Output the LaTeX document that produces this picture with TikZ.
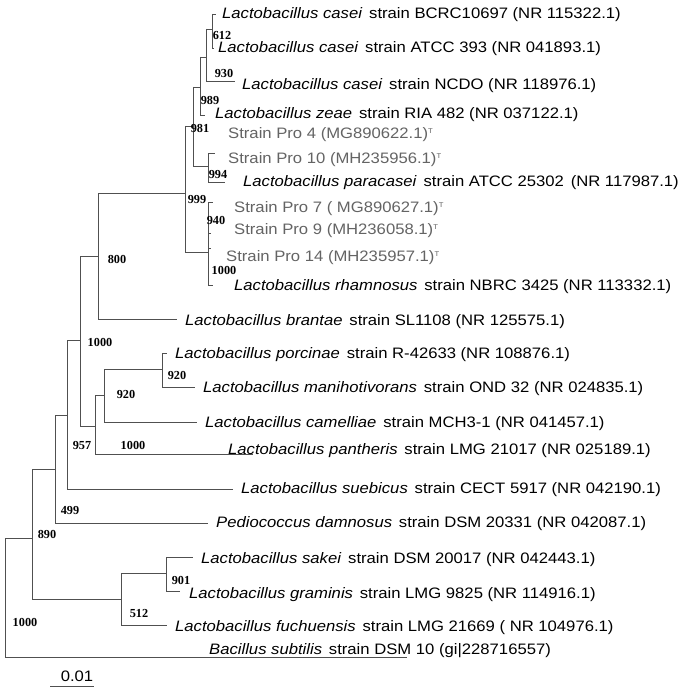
\documentclass[tikz,border=0pt]{standalone}
\usepackage{fontspec}
\setmainfont{Liberation Sans}[FakeStretch=1.1]
\newfontfamily\bsfont{Liberation Serif}
\definecolor{linec}{RGB}{80,80,80}
\definecolor{proc}{RGB}{100,100,100}
\begin{document}
\begin{tikzpicture}[x=1bp,y=-1bp,
  br/.style={draw=linec,line width=0.8bp},
  lf/.style={anchor=west,inner sep=0pt,font=\fontsize{15.2}{17}\selectfont},
  pro/.style={lf,text=proc},
  bs/.style={inner sep=0pt,font=\bsfont\bfseries\fontsize{12.3}{13}\selectfont}]
\useasboundingbox (0,0) rectangle (685,691);
\fill[white] (0,0) rectangle (685,691);
% ---- internal node coordinates ----
\coordinate (cA1) at (212,14);  \coordinate (cA2) at (212,48);
\coordinate (cB1) at (206,29);  \coordinate (cB2) at (206,81);
\coordinate (cC1) at (200,57);  \coordinate (cC2) at (200,115);
\coordinate (cD1) at (193,87);  \coordinate (cD2) at (193,166);
\coordinate (cF1) at (208,153); \coordinate (cF2) at (208,182);
\coordinate (cE1) at (185,126); \coordinate (cE2) at (185,252);
\coordinate (cG1) at (208,202); \coordinate (cG2) at (208,285);
\coordinate (cH1) at (98,193);  \coordinate (cH2) at (98,319);
\coordinate (cI1) at (80,256);  \coordinate (cI2) at (80,426);
\coordinate (cJ1) at (95,395);  \coordinate (cJ2) at (95,454);
\coordinate (cK1) at (104,369); \coordinate (cK2) at (104,422);
\coordinate (cL1) at (162,353); \coordinate (cL2) at (162,387);
\coordinate (cM1) at (67,340);  \coordinate (cM2) at (67,489);
\coordinate (cN1) at (55,415);  \coordinate (cN2) at (55,523);
\coordinate (cO1) at (32,469);  \coordinate (cO2) at (32,599);
\coordinate (cP1) at (121,573); \coordinate (cP2) at (121,625);
\coordinate (cQ1) at (166,557); \coordinate (cQ2) at (166,591);
\coordinate (cR1) at (5,538);   \coordinate (cR2) at (5,657);
% ---- leaf line ends ----
\coordinate (eA1) at (216,14);  \coordinate (eA2) at (214,48);
\coordinate (eB2) at (235,81);  \coordinate (eC2) at (205,115);
\coordinate (eF1) at (215,153); \coordinate (eF2) at (225,182);
\coordinate (eG1) at (213,202); \coordinate (eG3) at (211,233);
\coordinate (eG4) at (211,248); \coordinate (eG2) at (213,285);
\coordinate (eH2) at (177,319); \coordinate (eJ2) at (253,454);
\coordinate (eK2) at (197,422); \coordinate (eL1) at (167,353);
\coordinate (eL2) at (195,387); \coordinate (eM2) at (233,489);
\coordinate (eN2) at (208,523); \coordinate (eP2) at (167,625);
\coordinate (eQ1) at (193,557); \coordinate (eQ2) at (180,591);
\coordinate (eR2) at (407,657); \coordinate (mainL) at (98,193);
\coordinate (sb1) at (50,686);  \coordinate (sb2) at (94,686);
% ---- verticals ----
\foreach \n in {A,B,C,D,F,E,G,H,I,J,K,L,M,N,O,P,Q,R}
  \draw[br] (c\n1) -- (c\n2);
% ---- connections ----
\draw[br] (cB1) -- (cB1 -| cA1);
\draw[br] (cC1) -- (cC1 -| cB1);
\draw[br] (cD1) -- (cD1 -| cC1);
\draw[br] (cD2) -- (cD2 -| cF1);
\draw[br] (cE1) -- (cE1 -| cD1);
\draw[br] (cE2) -- (cE2 -| cG1);
\draw[br] (mainL) -- (mainL -| cE1);
\draw[br] (cI1) -- (cI1 -| cH1);
\draw[br] (cI2) -- (cI2 -| cJ1);
\draw[br] (cJ1) -- (cJ1 -| cK1);
\draw[br] (cK1) -- (cK1 -| cL1);
\draw[br] (cM1) -- (cM1 -| cI1);
\draw[br] (cN1) -- (cN1 -| cM1);
\draw[br] (cO1) -- (cO1 -| cN1);
\draw[br] (cO2) -- (cO2 -| cP1);
\draw[br] (cP1) -- (cP1 -| cQ1);
\draw[br] (cR1) -- (cR1 -| cO1);
% ---- leaves ----
\draw[br] (cA1) -- (eA1);  \draw[br] (cA2) -- (eA2);
\draw[br] (cB2) -- (eB2);  \draw[br] (cC2) -- (eC2);
\draw[br] (cF1) -- (eF1);  \draw[br] (cF2) -- (eF2);
\draw[br] (cG1) -- (eG1);  \draw[br] (cG2) -- (eG2);
\draw[br] (eG3 -| cG1) -- (eG3); \draw[br] (eG4 -| cG1) -- (eG4);
\draw[br] (cH2) -- (eH2);  \draw[br] (cJ2) -- (eJ2);
\draw[br] (cK2) -- (eK2);  \draw[br] (cL1) -- (eL1);
\draw[br] (cL2) -- (eL2);  \draw[br] (cM2) -- (eM2);
\draw[br] (cN2) -- (eN2);  \draw[br] (cP2) -- (eP2);
\draw[br] (cQ1) -- (eQ1);  \draw[br] (cQ2) -- (eQ2);
\draw[br] (cR2) -- (eR2);
\draw[br] (sb1) -- (sb2);
% ---- leaf labels ----
\node[lf] (t1) at (222,15) {\textit{Lactobacillus casei}\hspace{0.45em}strain BCRC10697 (NR 115322.1)};
\node[lf] (t2) at (218,49) {\textit{Lactobacillus casei}\hspace{0.45em}strain ATCC 393 (NR 041893.1)};
\node[lf] (t3) at (242,86) {\textit{Lactobacillus casei}\hspace{0.45em}strain NCDO (NR 118976.1)};
\node[lf] (t4) at (215,115) {\textit{Lactobacillus zeae}\hspace{0.45em}strain RIA 482 (NR 037122.1)};
\node[pro] (t5) at (228,135) {Strain Pro 4 (MG890622.1)\textsuperscript{\scriptsize T}};
\node[pro] (t6) at (228,160) {Strain Pro 10 (MH235956.1)\textsuperscript{\scriptsize T}};
\node[lf] (t7) at (243,183) {\textit{Lactobacillus paracasei}\hspace{0.45em}strain ATCC 25302\hspace{0.45em}(NR 117987.1)};
\node[pro] (t8) at (234,209) {Strain Pro 7 ( MG890627.1)\textsuperscript{\scriptsize T}};
\node[pro] (t9) at (234,231) {Strain Pro 9 (MH236058.1)\textsuperscript{\scriptsize T}};
\node[pro] (t10) at (226,258) {Strain Pro 14 (MH235957.1)\textsuperscript{\scriptsize T}};
\node[lf] (t11) at (234,287) {\textit{Lactobacillus rhamnosus}\hspace{0.45em}strain NBRC 3425 (NR 113332.1)};
\node[lf] (t12) at (185,322) {\textit{Lactobacillus brantae}\hspace{0.45em}strain SL1108 (NR 125575.1)};
\node[lf] (t13) at (175,355) {\textit{Lactobacillus porcinae}\hspace{0.45em}strain R-42633 (NR 108876.1)};
\node[lf] (t14) at (203,389) {\textit{Lactobacillus manihotivorans}\hspace{0.45em}strain OND 32 (NR 024835.1)};
\node[lf] (t15) at (205,424) {\textit{Lactobacillus camelliae}\hspace{0.45em}strain MCH3-1 (NR 041457.1)};
\node[lf] (t16) at (228,451) {\textit{Lactobacillus pantheris}\hspace{0.45em}strain LMG 21017 (NR 025189.1)};
\node[lf] (t17) at (241,490) {\textit{Lactobacillus suebicus}\hspace{0.45em}strain CECT 5917 (NR 042190.1)};
\node[lf] (t18) at (216,524) {\textit{Pediococcus damnosus}\hspace{0.45em}strain DSM 20331 (NR 042087.1)};
\node[lf] (t19) at (201,560) {\textit{Lactobacillus sakei}\hspace{0.45em}strain DSM 20017 (NR 042443.1)};
\node[lf] (t20) at (189,595) {\textit{Lactobacillus graminis}\hspace{0.45em}strain LMG 9825 (NR 114916.1)};
\node[lf] (t21) at (175,628) {\textit{Lactobacillus fuchuensis}\hspace{0.45em}strain LMG 21669 ( NR 104976.1)};
\node[lf] (t22) at (209,651) {\textit{Bacillus subtilis}\hspace{0.45em}strain DSM 10 (gi|228716557)};
% ---- bootstrap values ----
\node[bs] (b1) at (222,36) {612};
\node[bs] (b2) at (224,73) {930};
\node[bs] (b3) at (210,100) {989};
\node[bs] (b4) at (200,128) {981};
\node[bs] (b5) at (218,175) {994};
\node[bs] (b6) at (197,200) {999};
\node[bs] (b7) at (216,220) {940};
\node[bs] (b8) at (224,270) {1000};
\node[bs] (b9) at (117,259) {800};
\node[bs] (b10) at (100,342) {1000};
\node[bs] (b11) at (177,375) {920};
\node[bs] (b12) at (126,394) {920};
\node[bs] (b13) at (82,445) {957};
\node[bs] (b14) at (133,445) {1000};
\node[bs] (b15) at (70,510) {499};
\node[bs] (b16) at (47,534) {890};
\node[bs] (b17) at (181,580) {901};
\node[bs] (b18) at (139,613) {512};
\node[bs] (b19) at (25,622) {1000};
% ---- scale ----
\node[inner sep=0pt,font=\fontsize{15.2}{17}\selectfont] (sc) at (77,676) {0.01};
\end{tikzpicture}
\end{document}
